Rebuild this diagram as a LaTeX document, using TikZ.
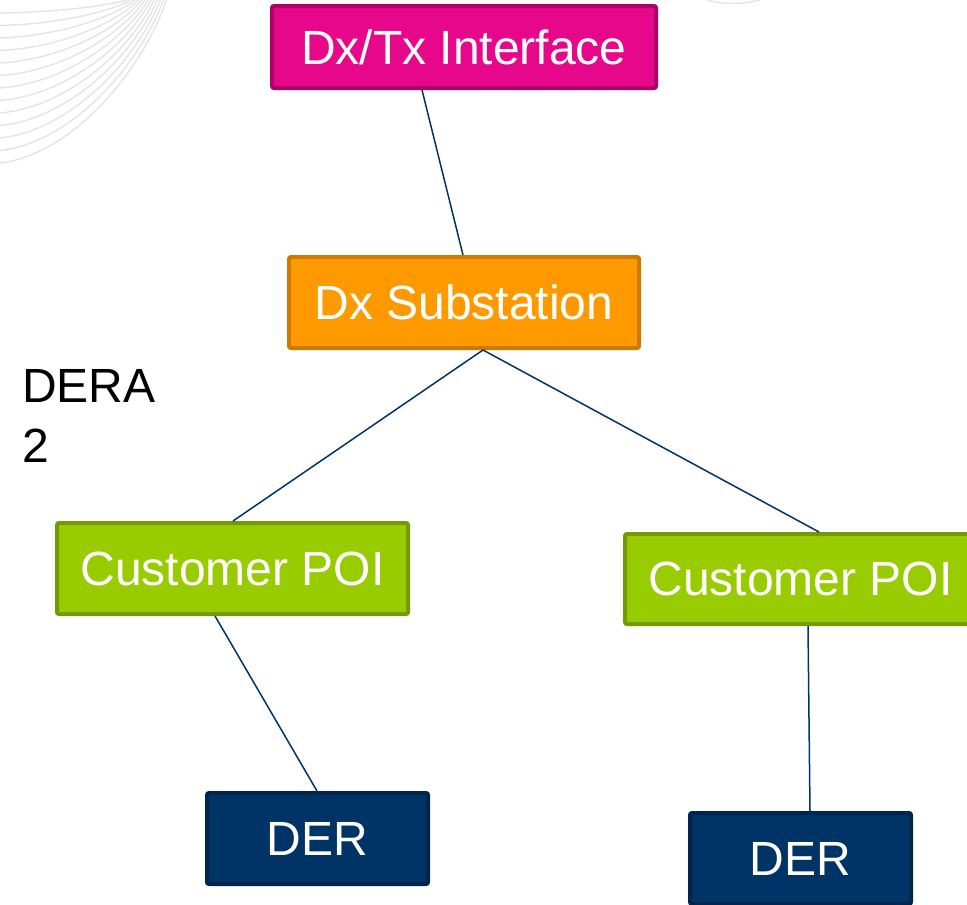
\documentclass[tikz,border=0pt]{standalone}
\usepackage{fontspec}
\setmainfont{Liberation Sans}
\definecolor{pinkfill}{HTML}{E6078A}
\definecolor{pinkline}{HTML}{AF0068}
\definecolor{orangefill}{HTML}{FF9900}
\definecolor{orangeline}{HTML}{CC7A00}
\definecolor{greenfill}{HTML}{99CC00}
\definecolor{greenline}{HTML}{739A00}
\definecolor{navyfill}{HTML}{003366}
\definecolor{navyline}{HTML}{00264D}
\definecolor{wire}{HTML}{003366}
\definecolor{swirl}{HTML}{E4E4E4}
\tikzset{
  box/.style={rectangle, rounded corners=2pt, line width=4pt, text=white,
    font=\fontsize{48}{56}\selectfont, inner sep=0pt},
  pinkbox/.style={box, draw=pinkline, fill=pinkfill},
  orangebox/.style={box, draw=orangeline, fill=orangefill},
  greenbox/.style={box, draw=greenline, fill=greenfill},
  navybox/.style={box, draw=navyline, fill=navyfill},
  wireline/.style={draw=wire, line width=1.5pt},
  swirlline/.style={draw=swirl, line width=1.4pt}
}
\begin{document}
\begin{tikzpicture}[x=1pt,y=-1pt]
\useasboundingbox (0,0) rectangle (967,905);
\begin{scope}
\clip (0,0) rectangle (967,905);
% decorative swirl lines
\foreach \i in {0,...,12}{
  \pgfmathsetmacro{\t}{\i/12}
  \pgfmathsetmacro{\ys}{13+150*\t}
  \pgfmathsetmacro{\xe}{130+37*\t}
  \pgfmathsetmacro{\cax}{0.42*\xe}
  \pgfmathsetmacro{\cay}{0.95*\ys}
  \pgfmathsetmacro{\cbx}{0.84*\xe}
  \pgfmathsetmacro{\cby}{0.46*\ys}
  \draw[swirlline] (0,\ys) .. controls (\cax,\cay) and (\cbx,\cby) .. (\xe,-1);
}
\draw[swirlline] (705,-1) .. controls (720,5) and (745,5) .. (762,-1);

\node[pinkbox, minimum width=384pt, minimum height=82pt] (iface) at (464,47) {Dx/Tx Interface};
\node[orangebox, minimum width=350pt, minimum height=91pt] (subst) at (464,302.5) {Dx Substation};
\node[greenbox, minimum width=351pt, minimum height=91pt] (poiL) at (232.5,568.5) {Customer POI};
\node[greenbox, minimum width=351pt, minimum height=90pt] (poiR) at (800.5,579) {Customer POI};
\node[navybox, minimum width=221pt, minimum height=91pt] (derL) at (317.5,838.5) {DER};
\node[navybox, minimum width=221pt, minimum height=91pt] (derR) at (800.5,858.5) {DER};

\node[anchor=base west, align=left, font=\fontsize{48}{60}\selectfont, inner sep=0pt] (dera) at (22,462) {DERA\\2};

\draw[wireline] ([xshift=-42pt]iface.south) -- ([xshift=-1pt]subst.north);
\draw[wireline] ([xshift=19pt]subst.south) -- ([xshift=0.5pt]poiL.north);
\draw[wireline] ([xshift=19pt]subst.south) -- ([xshift=18.5pt]poiR.north);
\draw[wireline] ([xshift=-17.5pt]poiL.south) -- ([xshift=-0.5pt]derL.north);
\draw[wireline] ([xshift=7.5pt]poiR.south) -- ([xshift=9.5pt]derR.north);
\end{scope}
\end{tikzpicture}
\end{document}
